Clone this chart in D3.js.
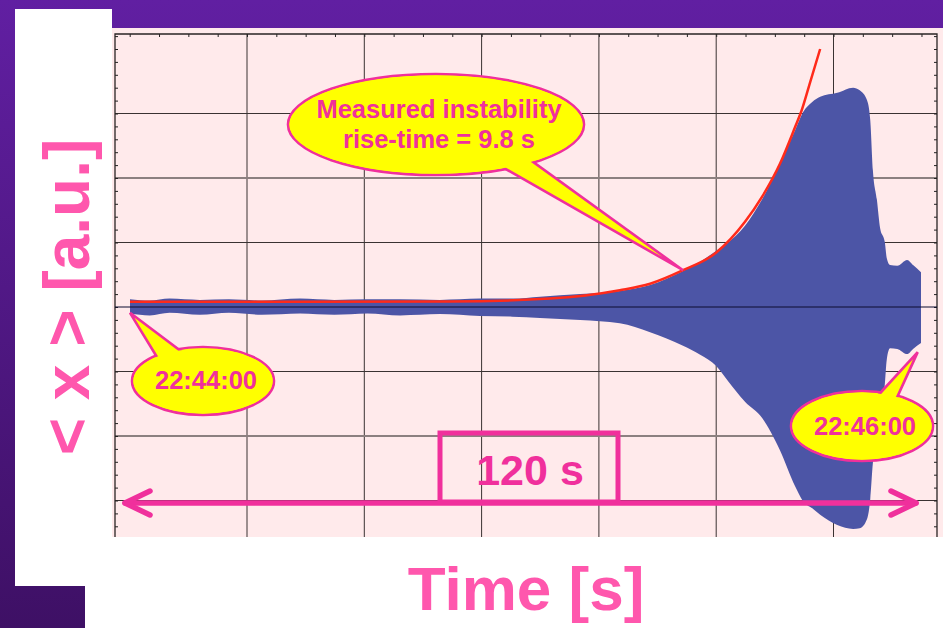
<!DOCTYPE html>
<html>
<head>
<meta charset="utf-8">
<script src="https://cdn.jsdelivr.net/npm/d3@7"></script>
<style>
  body { margin: 0; background: #fff; }
  svg { display: block; }
  text { font-family: "Liberation Sans", Arial, sans-serif; font-weight: bold; }
</style>
</head>
<body>
<svg id="chart"></svg>
<script>
// time since 22:44:00 [s] and beam envelope <x> [a.u., one grid division = 1]
const envTime  = [0, 3, 6, 10.6, 15, 20, 25.8, 31, 36, 41.0, 47, 53.1, 58, 62.2, 68.3, 74.3, 78.9, 83.9, 86.5, 88.9, 90.6, 93.3, 95.9, 98.6, 100.9, 102.1, 103.5, 104.7, 107.3, 109.7, 110.7, 111.8, 112.3, 112.7, 113.3, 113.8, 114.5, 114.8, 115.3, 116.4, 117.9, 118.8, 120.0];
const envUpper = [0.12, 0.10, 0.13, 0.11, 0.12, 0.10, 0.13, 0.11, 0.12, 0.12, 0.11, 0.13, 0.13, 0.16, 0.20, 0.25, 0.34, 0.56, 0.70, 0.87, 0.99, 1.26, 1.67, 2.22, 2.74, 3.02, 3.18, 3.26, 3.32, 3.40, 3.36, 3.21, 2.90, 2.12, 1.67, 1.22, 1.01, 0.76, 0.65, 0.64, 0.73, 0.65, 0.54];
const envLower = [-0.10, -0.13, -0.09, -0.12, -0.09, -0.12, -0.10, -0.12, -0.10, -0.13, -0.11, -0.14, -0.15, -0.17, -0.20, -0.25, -0.39, -0.60, -0.74, -0.91, -1.13, -1.47, -1.72, -2.22, -2.78, -3.01, -3.12, -3.22, -3.38, -3.44, -3.43, -3.29, -2.98, -2.42, -2.06, -1.75, -1.21, -0.82, -0.64, -0.65, -0.73, -0.65, -0.56];

// exponential fit (rise-time 9.8 s)
const fitTime  = [0, 25.8, 48.5, 63.7, 74.3, 78.9, 83.9, 88.9, 93.3, 95.9, 98.6, 100.9, 101.9, 103.2, 104.7];
const fitValue = [0.08, 0.08, 0.085, 0.13, 0.26, 0.36, 0.57, 0.84, 1.32, 1.71, 2.22, 2.79, 3.05, 3.49, 4.00];

const xGrid = [0, 1, 2, 3, 4, 5];
const yGrid = [-3, -2, -1, 1, 2, 3];

const width = 943, height = 628;
const pink = "#f0309c", lightPink = "#ff57ad", yellow = "#ffff00";

const svg = d3.select("#chart").attr("width", width).attr("height", height);

// background
const defs = svg.append("defs");
const grad = defs.append("linearGradient").attr("id", "bg").attr("x1", 0).attr("y1", 0).attr("x2", 0).attr("y2", 1);
grad.append("stop").attr("offset", "0%").attr("stop-color", "#611fa2");
grad.append("stop").attr("offset", "100%").attr("stop-color", "#3e1065");
svg.append("rect").attr("width", width).attr("height", height).attr("fill", "url(#bg)");
svg.append("rect").attr("x", 15).attr("y", 9).attr("width", 97).attr("height", 577).attr("fill", "#fff");
svg.append("rect").attr("x", 85).attr("y", 537).attr("width", 858).attr("height", 91).attr("fill", "#fff");
svg.append("rect").attr("x", 112).attr("y", 28).attr("width", 831).attr("height", 509).attr("fill", "#ffeaeb");

// scales
const pLeft = 115, pRight = 937, pTop = 34, pBottom = 537;
const x = d3.scaleLinear().domain([0, 120]).range([130, 921]);   // seconds
const xDiv = d3.scaleLinear().domain([0, 1]).range([247, 364.3]); // scope divisions
const y = d3.scaleLinear().domain([0, 1]).range([307, 242.5]);    // a.u.

// grid
const grid = svg.append("g");
grid.selectAll("line.v").data(xGrid).join("line")
    .attr("x1", d => xDiv(d)).attr("x2", d => xDiv(d))
    .attr("y1", pTop).attr("y2", pBottom)
    .attr("stroke", "#3a3232").attr("stroke-width", 1);
grid.selectAll("line.h").data(yGrid).join("line")
    .attr("x1", pLeft).attr("x2", pRight)
    .attr("y1", d => y(d)).attr("y2", d => y(d))
    .attr("stroke", d => Math.abs(d) === 2 ? "#8c8080" : "#3a3232")
    .attr("stroke-width", d => Math.abs(d) === 2 ? 2 : 1);

// minor ticks
const yMinor = d3.range(-18, 22).map(d => d / 5).filter(d => y(d) > pTop && y(d) < pBottom);
const xMinor = d3.range(-5, 24).map(d => d / 4).filter(d => xDiv(d) > pLeft && xDiv(d) < pRight);
const tickStyle = g => { g.select(".domain").remove(); g.selectAll(".tick line").attr("stroke", "#222"); };
svg.append("g").attr("transform", `translate(${pLeft},0)`)
    .call(d3.axisRight(y).tickValues(yMinor).tickSize(3).tickFormat("")).call(tickStyle);
svg.append("g").attr("transform", `translate(${pRight},0)`)
    .call(d3.axisLeft(y).tickValues(yMinor).tickSize(3).tickFormat("")).call(tickStyle);
svg.append("g").attr("transform", `translate(0,${pTop})`)
    .call(d3.axisBottom(xDiv).tickValues(xMinor).tickSize(3).tickFormat("")).call(tickStyle);

// frame
svg.append("path")
    .attr("d", `M${pLeft},${pBottom}V${pTop}H${pRight}V${pBottom}`)
    .attr("fill", "none").attr("stroke", "#2a2424").attr("stroke-width", 1.3);

// signal envelope
const area = d3.area()
    .x((d, i) => x(envTime[i]))
    .y0((d, i) => y(envLower[i]))
    .y1((d, i) => y(envUpper[i]))
    .curve(d3.curveMonotoneX);
svg.append("path").datum(envTime).attr("d", area).attr("fill", "#4c55a6");

// zero line
svg.append("line").attr("x1", pLeft).attr("x2", pRight).attr("y1", y(0)).attr("y2", y(0))
    .attr("stroke", "#0c0c30").attr("stroke-width", 1.2);

// fit
const fitLine = d3.line().x((d, i) => x(fitTime[i])).y((d, i) => y(fitValue[i])).curve(d3.curveMonotoneX);
svg.append("path").datum(fitTime).attr("d", fitLine)
    .attr("fill", "none").attr("stroke", "#ff2a1a").attr("stroke-width", 2.5);

// callouts
function callout(cx, cy, rx, ry, base, tip, lines, size, lineH, baseY) {
    const g = svg.append("g");
    g.append("ellipse").attr("cx", cx).attr("cy", cy).attr("rx", rx).attr("ry", ry)
        .attr("fill", yellow).attr("stroke", pink).attr("stroke-width", 2.6);
    g.append("path").attr("d", `M${base[0][0]},${base[0][1]}L${tip[0]},${tip[1]}L${base[1][0]},${base[1][1]}Z`)
        .attr("fill", yellow).attr("stroke", pink).attr("stroke-width", 2.6).attr("stroke-linejoin", "miter");
    g.append("ellipse").attr("cx", cx).attr("cy", cy).attr("rx", rx - 1.4).attr("ry", ry - 1.4).attr("fill", yellow);
    lines.forEach((t, i) => g.append("text")
        .attr("x", cx + 3).attr("y", baseY + i * lineH)
        .attr("text-anchor", "middle").attr("font-size", size).attr("fill", pink).text(t));
}
callout(436, 124.5, 148, 50.5, [[490, 160], [522, 154]], [x(83.9), y(0.57)],
    ["Measured instability", "rise-time = 9.8 s"], 25.5, 30, 118);
callout(203, 381, 71, 34, [[160, 362], [186, 355]], [x(0), y(-0.09)], ["22:44:00"], 25.5, 0, 389);
callout(862, 426, 71, 35, [[872, 402], [894, 404]], [x(119.5), y(-0.7)], ["22:46:00"], 25.5, 0, 435);

// 120 s arrow
const arrowY = 503;
const arrow = svg.append("g").attr("stroke", pink).attr("stroke-width", 5.5)
    .attr("fill", "none").attr("stroke-linecap", "round").attr("stroke-linejoin", "round");
const xa = x(0) - 5, xb = x(120) - 5;
arrow.append("line").attr("x1", xa).attr("x2", xb).attr("y1", arrowY).attr("y2", arrowY);
arrow.append("path").attr("d", `M${xa + 25},${arrowY - 12}L${xa},${arrowY}L${xa + 25},${arrowY + 12}`);
arrow.append("path").attr("d", `M${xb - 25},${arrowY - 12}L${xb},${arrowY}L${xb - 25},${arrowY + 12}`);
svg.append("rect").attr("x", 440).attr("y", 433).attr("width", 178).attr("height", 69)
    .attr("fill", "none").attr("stroke", pink).attr("stroke-width", 5);
svg.append("text").attr("x", 530).attr("y", 485).attr("text-anchor", "middle")
    .attr("font-size", 43).attr("fill", pink).text("120 s");

// axis titles
svg.append("text").attr("x", 526).attr("y", 610).attr("text-anchor", "middle")
    .attr("font-size", 62).attr("fill", lightPink).text("Time [s]");
svg.append("text").attr("transform", "translate(89,297) rotate(-90)").attr("text-anchor", "middle")
    .attr("font-size", 64).attr("fill", lightPink).text("< x > [a.u.]");
</script>
</body>
</html>
